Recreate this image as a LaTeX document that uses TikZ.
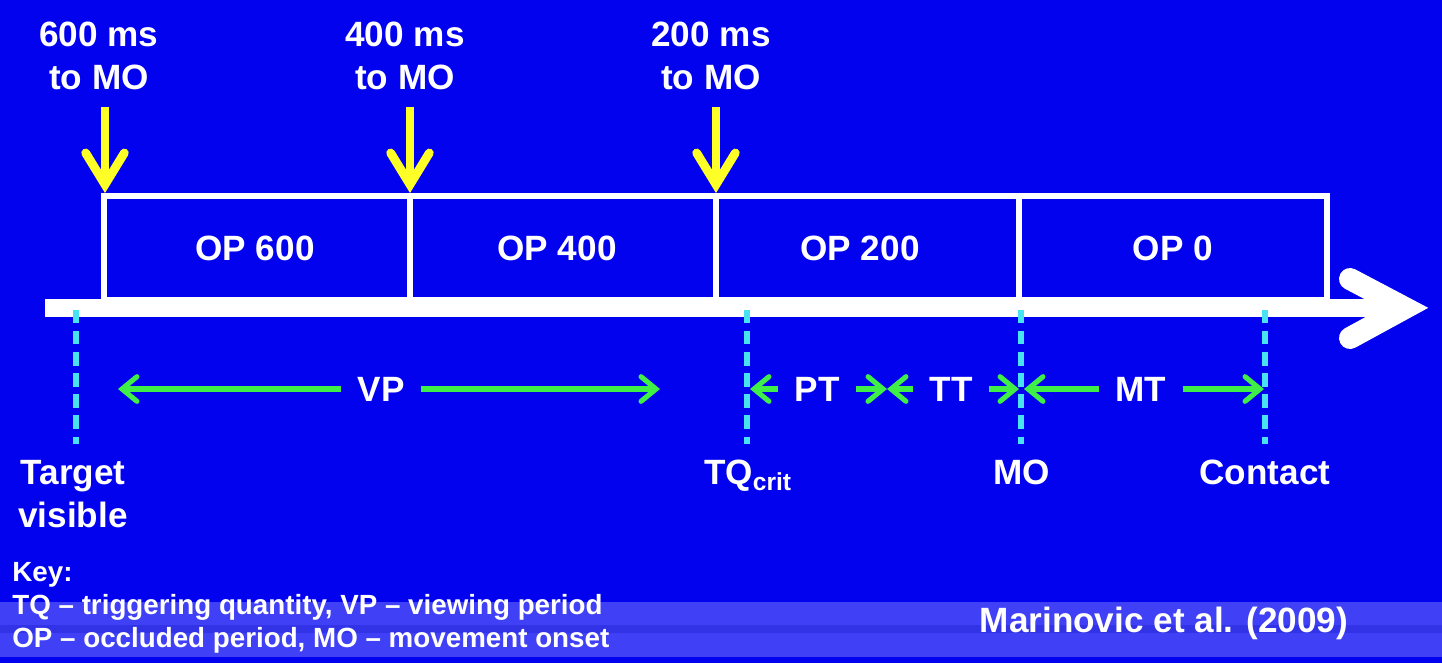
\documentclass[tikz,border=0pt]{standalone}
\usepackage{fontspec}
\setmainfont{Liberation Sans}
\usetikzlibrary{arrows.meta}

\definecolor{slideblue}{RGB}{2,2,238}
\definecolor{bandblue}{RGB}{64,64,246}
\definecolor{stripeblue}{RGB}{50,50,230}
\definecolor{cueyellow}{RGB}{255,255,40}
\definecolor{spangreen}{RGB}{64,238,72}
\definecolor{tickcyan}{RGB}{72,226,242}

\begin{document}
\begin{tikzpicture}[x=0.02cm, y=-0.02cm,
    txt/.style={text=white, inner sep=0pt, align=center, font=\bfseries\fontsize{20}{24.4}\selectfont},
    keytxt/.style={text=white, inner sep=0pt, align=left, font=\bfseries\fontsize{15.8}{18.7}\selectfont},
    cue/.style={cueyellow, line width=5pt, -{Straight Barb[length=18pt, width=22pt, line cap=round]}},
    spanarrow/.style={spangreen, line width=2.9pt, -{Straight Barb[length=8.5pt, width=14pt, line cap=round]}},
    cutline/.style={tickcyan, line width=3.2pt, dash pattern=on 7.6pt off 4.4pt},
    lane/.style={white, line width=2.9pt}]

    % background
    \fill[slideblue] (0,0) rectangle (1442,663);
    \fill[bandblue] (0,602) rectangle (1442,657);
    \fill[stripeblue] (0,625) rectangle (1442,633);

    % time axis
    \draw[white, line width=10.2pt] (45,308) -- (1400,308);
    \draw[white, line width=12.5pt, line cap=round, line join=miter] (1350,279) -- (1405,308) -- (1350,338);

    % occluded periods
    \draw[lane] (104,300) rectangle (1327,196);
    \foreach \x in {410,716,1019}
        \draw[lane] (\x,196) -- (\x,300);

    \node[txt, anchor=base] (op600) at (255,260) {OP 600};
    \node[txt, anchor=base] (op400) at (557,260) {OP 400};
    \node[txt, anchor=base] (op200) at (860,260) {OP 200};
    \node[txt, anchor=base] (op0) at (1173,260) {OP 0};

    % occlusion cues
    \node[txt, anchor=north] (t600) at (99,22) {600 ms\\to MO};
    \node[txt, anchor=north] (t400) at (405,22) {400 ms\\to MO};
    \node[txt, anchor=north] (t200) at (711,22) {200 ms\\to MO};

    \coordinate (c600) at (105,107);
    \coordinate (c400) at (410,107);
    \coordinate (c200) at (716,107);
    \coordinate (m600) at (105,193);
    \coordinate (m400) at (410,193);
    \coordinate (m200) at (716,193);

    \draw[cue] (c600) -- (m600);
    \draw[cue] (c400) -- (m400);
    \draw[cue] (c200) -- (m200);

    % events
    \draw[cutline] (76,310) -- (76,444);
    \draw[cutline] (747,310) -- (747,444);
    \draw[cutline] (1021,310) -- (1021,444);
    \draw[cutline] (1265,310) -- (1265,444);

    \node[txt, anchor=north] (target) at (73,460) {Target\\visible};
    \node[txt, anchor=north] (tqcrit) at (748,460) {TQ\textsubscript{crit}};
    \node[txt, anchor=north] (mo) at (1022,460) {MO};
    \node[txt, anchor=north] (contact) at (1265,460) {Contact};

    % periods
    \node[txt, inner xsep=0.32cm] (vp) at (381,389) {VP};
    \node[txt, inner xsep=0.32cm] (pt) at (817,389) {PT};
    \node[txt, inner xsep=0.32cm] (tt) at (951,389) {TT};
    \node[txt, inner xsep=0.32cm] (mt) at (1141,389) {MT};

    \coordinate (vpa) at (118,389);
    \coordinate (vpb) at (660,389);
    \coordinate (tqa) at (750,389);
    \coordinate (ptt) at (887,389);
    \coordinate (moa) at (1019,389);
    \coordinate (mob) at (1024,389);
    \coordinate (cta) at (1264,389);

    \draw[spanarrow] (vp.west) -- (vpa);
    \draw[spanarrow] (vp.east) -- (vpb);
    \draw[spanarrow] (pt.west) -- (tqa);
    \draw[spanarrow] (pt.east) -- (ptt);
    \draw[spanarrow] (tt.west) -- (ptt);
    \draw[spanarrow] (tt.east) -- (moa);
    \draw[spanarrow] (mt.west) -- (mob);
    \draw[spanarrow] (mt.east) -- (cta);

    % key and source
    \node[keytxt, anchor=north west] (key) at (12,562) {Key:\\TQ – triggering quantity, VP – viewing period\\OP – occluded period, MO – movement onset};
    \node[txt, anchor=base] (cite) at (1164,632) {Marinovic et al. (2009)};

    \useasboundingbox (0,0) rectangle (1442,663);
\end{tikzpicture}
\end{document}
